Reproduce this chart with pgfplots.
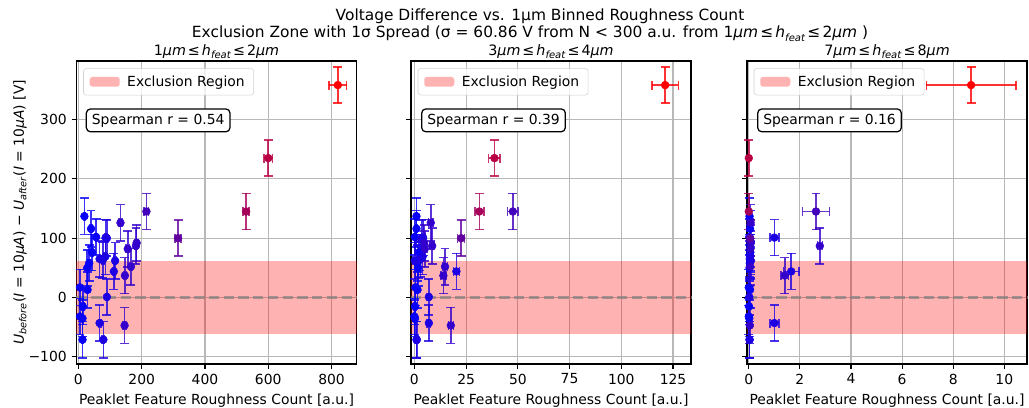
\documentclass[border=0pt]{standalone}
\usepackage{pgfplots}
\pgfplotsset{compat=1.18}
\usepackage{pgfplotstable}
\usepackage{fontspec}
\setmainfont{DejaVu Sans}

\newcommand\rel{\hspace{0.14em}≤\hspace{0.14em}}
\newcommand\hr[2]{#1\textit{μm}\rel\textit{h}\raisebox{-0.25em}{\fontsize{7.2}{8}\selectfont\textit{feat}}\rel#2\textit{μm}}

% columns: x1 ex1 (1-2um), x2 ex2 (3-4um), x3 ex3 (7-8um), y ey
\pgfplotstableread{
x1 ex1 x2 ex2 x3 ex3 y ey
19 3 1.0 0.5 0.03 0.02 137 30.43
40 3 1.0 0.5 0.05 0.02 116 30.43
56 3 0.2 0.5 0.02 0.02 102 30.43
43 3 2.5 0.5 0.06 0.02 76 30.43
34 3 1.5 0.5 0.04 0.02 58 30.43
28 3 1.8 0.5 0.03 0.02 50 30.43
5 2 0.5 0.5 0.00 0.02 17 30.43
29 3 1.5 0.5 0.05 0.02 13 30.43
14 3 0.3 0.5 0.01 0.02 -15 30.43
5 2 0.0 0.5 0.00 0.02 -32 30.43
13 3 0.3 0.5 0.02 0.02 -35 30.43
13 3 1.0 0.5 0.03 0.02 -71 30.43
}\gA
\pgfplotstableread{
x1 ex1 x2 ex2 x3 ex3 y ey
86 4 4.2 0.8 1.00 0.18 101 30.43
90 4 3.5 0.8 0.05 0.02 100 30.43
67 4 3.0 0.8 0.04 0.02 65 30.43
77 4 2.0 0.8 0.06 0.02 63 30.43
85 4 4.0 0.8 0.05 0.02 69 30.43
116 4 0.2 0.8 0.08 0.02 62 30.43
112 4 20.3 1.5 1.66 0.30 44 30.43
90 4 7.0 0.8 0.02 0.02 1 30.43
67 4 7.0 0.8 1.00 0.18 -43 30.43
79 4 1.2 0.8 0.03 0.02 -71 30.43
}\gB
\pgfplotstableread{
x1 ex1 x2 ex2 x3 ex3 y ey
133 5 7.9 1.0 0.07 0.02 126 30.43
156 5 5.0 1.0 0.06 0.02 82 30.43
184 5 4.7 1.0 0.08 0.02 92 30.43
182 5 8.6 1.0 2.78 0.10 87 30.43
166 5 14.8 1.2 0.05 0.02 52 30.43
147 5 14.0 1.2 1.41 0.15 37 30.43
146 5 17.6 1.2 0.04 0.02 -47 30.43
}\gC
\pgfplotstableread{
x1 ex1 x2 ex2 x3 ex3 y ey
215 7 47.6 2.5 2.63 0.52 145 30.43
}\gD
\pgfplotstableread{
x1 ex1 x2 ex2 x3 ex3 y ey
315 9 22.6 1.7 0.05 0.02 100 30.43
}\gE
\pgfplotstableread{
x1 ex1 x2 ex2 x3 ex3 y ey
530 9 31.4 2.2 0.00 0.02 145 30.43
}\gF
\pgfplotstableread{
x1 ex1 x2 ex2 x3 ex3 y ey
600 14 38.7 2.8 0.00 0.02 235 30.43
}\gG
\pgfplotstableread{
x1 ex1 x2 ex2 x3 ex3 y ey
820 28 121.2 6.4 8.70 1.75 358 30.43
}\gH

\colorlet{cA}{red!3!blue}
\colorlet{cB}{red!11!blue}
\colorlet{cC}{red!20!blue}
\colorlet{cD}{red!26!blue}
\colorlet{cE}{red!38!blue}
\colorlet{cF}{red!65!blue}
\colorlet{cG}{red!73!blue}
\colorlet{cH}{red}

\tikzset{
  spear/.style={draw=black, line width=0.9pt, rounded corners=3pt, fill=white, anchor=north west,
    inner xsep=4pt, inner ysep=3.5pt, font=\fontsize{10}{12}\selectfont},
}
\pgfplotsset{
  every axis title/.style={at={(0.5,1)}, anchor=base, yshift=4.3pt, font=\fontsize{10.3}{12}\selectfont},
  panel/.style={
    scale only axis, width=201.6pt, height=218.16pt, anchor=south west,
    ymin=-112, ymax=398.6, ytick={-100,0,100,200,300},
    clip=false,
    grid=major, major grid style={color=black!28, line width=0.8pt},
    axis line style={line width=0.8pt},
    tick align=outside, major tick length=3.5pt,
    tick style={line width=0.8pt, black},
    tick pos=left,
    ticklabel style={font=\fontsize{10}{12}\selectfont},
    label style={font=\fontsize{10}{12}\selectfont},
    xlabel={Peaklet Feature Roughness Count [a.u.]},
    legend style={at={(0.024,0.976)}, anchor=north west, draw=black!18,
      rounded corners=2pt, fill=white, fill opacity=0.8, text opacity=1, draw opacity=1,
      font=\fontsize{10}{12}\selectfont, inner xsep=4.5pt, inner ysep=3pt},
    legend cell align=left,
  },
  band/.style={fill=red, fill opacity=0.3, draw=none,
    legend image code/.code={\fill[red, fill opacity=0.3] (0pt,-3.5pt) rectangle (21.6pt,3.5pt); \path (21.6pt,0) -- (25pt,0);}},
  zeroline/.style={color=gray, opacity=0.7, line width=2pt, dash pattern=on 7.4pt off 3.2pt, forget plot},
  ser/.style={only marks, mark=*, mark size=2.8pt, color=#1, forget plot,
    error bars/.cd, x dir=both, x explicit, y dir=both, y explicit,
    error bar style={line width=1.1pt, color=#1, opacity=0.8},
    error mark options={rotate=90, mark size=3.2pt, line width=1.1pt, color=#1, opacity=0.8}},
}

\begin{document}
\begin{tikzpicture}
\useasboundingbox (0,0) rectangle (740.88pt,293.04pt);
\node[font=\fontsize{11.1}{13}\selectfont, anchor=base] at (388.8pt,278.6pt) {Voltage Difference vs. 1µm Binned Roughness Count};
\node[font=\fontsize{11.1}{13}\selectfont, anchor=base] at (381.6pt,265.7pt) {Exclusion Zone with 1σ Spread (σ = 60.86 V from N < 300 a.u. from \hr{1}{2} )};

% ---------- panel 1 ----------
\begin{axis}[panel, at={(55.08pt,30.96pt)}, xmin=-6, xmax=879,
  xtick={0,200,400,600,800}, xticklabels={0,200,400,600,800},
  yticklabels={−100,0,100,200,300},
  ylabel={\textit{U}\textsubscript{\textit{before}}(\textit{I} = 10\textit{μA}) − \textit{U}\textsubscript{\textit{after}}(\textit{I} = 10\textit{μA}) [V]},
  ylabel style={at={(axis description cs:-0.202,0.5)}, anchor=center},
  title={\hr{1}{2}}]
\addplot[band] coordinates {(-6,-60.86) (879,-60.86) (879,60.86) (-6,60.86)} --cycle;
\addlegendentry{Exclusion Region}
\addplot[zeroline] coordinates {(-6,0) (879,0)};
\addplot[ser=cA] table[x=x1,y=y,x error=ex1,y error=ey] {\gA};
\addplot[ser=cB] table[x=x1,y=y,x error=ex1,y error=ey] {\gB};
\addplot[ser=cC] table[x=x1,y=y,x error=ex1,y error=ey] {\gC};
\addplot[ser=cD] table[x=x1,y=y,x error=ex1,y error=ey] {\gD};
\addplot[ser=cE] table[x=x1,y=y,x error=ex1,y error=ey] {\gE};
\addplot[ser=cF] table[x=x1,y=y,x error=ex1,y error=ey] {\gF};
\addplot[ser=cG] table[x=x1,y=y,x error=ex1,y error=ey] {\gG};
\addplot[ser=cH] table[x=x1,y=y,x error=ex1,y error=ey] {\gH};
\node[spear] at (rel axis cs:0.033,0.844) {Spearman r = 0.54};
\end{axis}

% ---------- panel 2 ----------
\begin{axis}[panel, at={(295.92pt,30.96pt)}, xmin=-1.64, xmax=133.7,
  xtick={0,25,50,75,100,125}, xticklabels={0,25,50,75,100,125},
  yticklabels={},
  title={\hr{3}{4}}]
\addplot[band] coordinates {(-1.64,-60.86) (133.7,-60.86) (133.7,60.86) (-1.64,60.86)} --cycle;
\addlegendentry{Exclusion Region}
\addplot[zeroline] coordinates {(-1.64,0) (133.7,0)};
\addplot[ser=cA] table[x=x2,y=y,x error=ex2,y error=ey] {\gA};
\addplot[ser=cB] table[x=x2,y=y,x error=ex2,y error=ey] {\gB};
\addplot[ser=cC] table[x=x2,y=y,x error=ex2,y error=ey] {\gC};
\addplot[ser=cD] table[x=x2,y=y,x error=ex2,y error=ey] {\gD};
\addplot[ser=cE] table[x=x2,y=y,x error=ex2,y error=ey] {\gE};
\addplot[ser=cF] table[x=x2,y=y,x error=ex2,y error=ey] {\gF};
\addplot[ser=cG] table[x=x2,y=y,x error=ex2,y error=ey] {\gG};
\addplot[ser=cH] table[x=x2,y=y,x error=ex2,y error=ey] {\gH};
\node[spear] at (rel axis cs:0.036,0.844) {Spearman r = 0.39};
\end{axis}

% ---------- panel 3 ----------
\begin{axis}[panel, at={(537.84pt,30.96pt)}, xmin=-0.07, xmax=10.89,
  xtick={0,2,4,6,8,10}, xticklabels={0,2,4,6,8,10},
  yticklabels={},
  title={\hr{7}{8}}]
\addplot[band] coordinates {(-0.07,-60.86) (10.89,-60.86) (10.89,60.86) (-0.07,60.86)} --cycle;
\addlegendentry{Exclusion Region}
\addplot[zeroline] coordinates {(-0.07,0) (10.89,0)};
\addplot[ser=cA] table[x=x3,y=y,x error=ex3,y error=ey] {\gA};
\addplot[ser=cB] table[x=x3,y=y,x error=ex3,y error=ey] {\gB};
\addplot[ser=cC] table[x=x3,y=y,x error=ex3,y error=ey] {\gC};
\addplot[ser=cD] table[x=x3,y=y,x error=ex3,y error=ey] {\gD};
\addplot[ser=cE] table[x=x3,y=y,x error=ex3,y error=ey] {\gE};
\addplot[ser=cF] table[x=x3,y=y,x error=ex3,y error=ey] {\gF};
\addplot[ser=cG] table[x=x3,y=y,x error=ex3,y error=ey] {\gG};
\addplot[ser=cH] table[x=x3,y=y,x error=ex3,y error=ey] {\gH};
\node[spear] at (rel axis cs:0.036,0.844) {Spearman r = 0.16};
\end{axis}
\end{tikzpicture}
\end{document}
